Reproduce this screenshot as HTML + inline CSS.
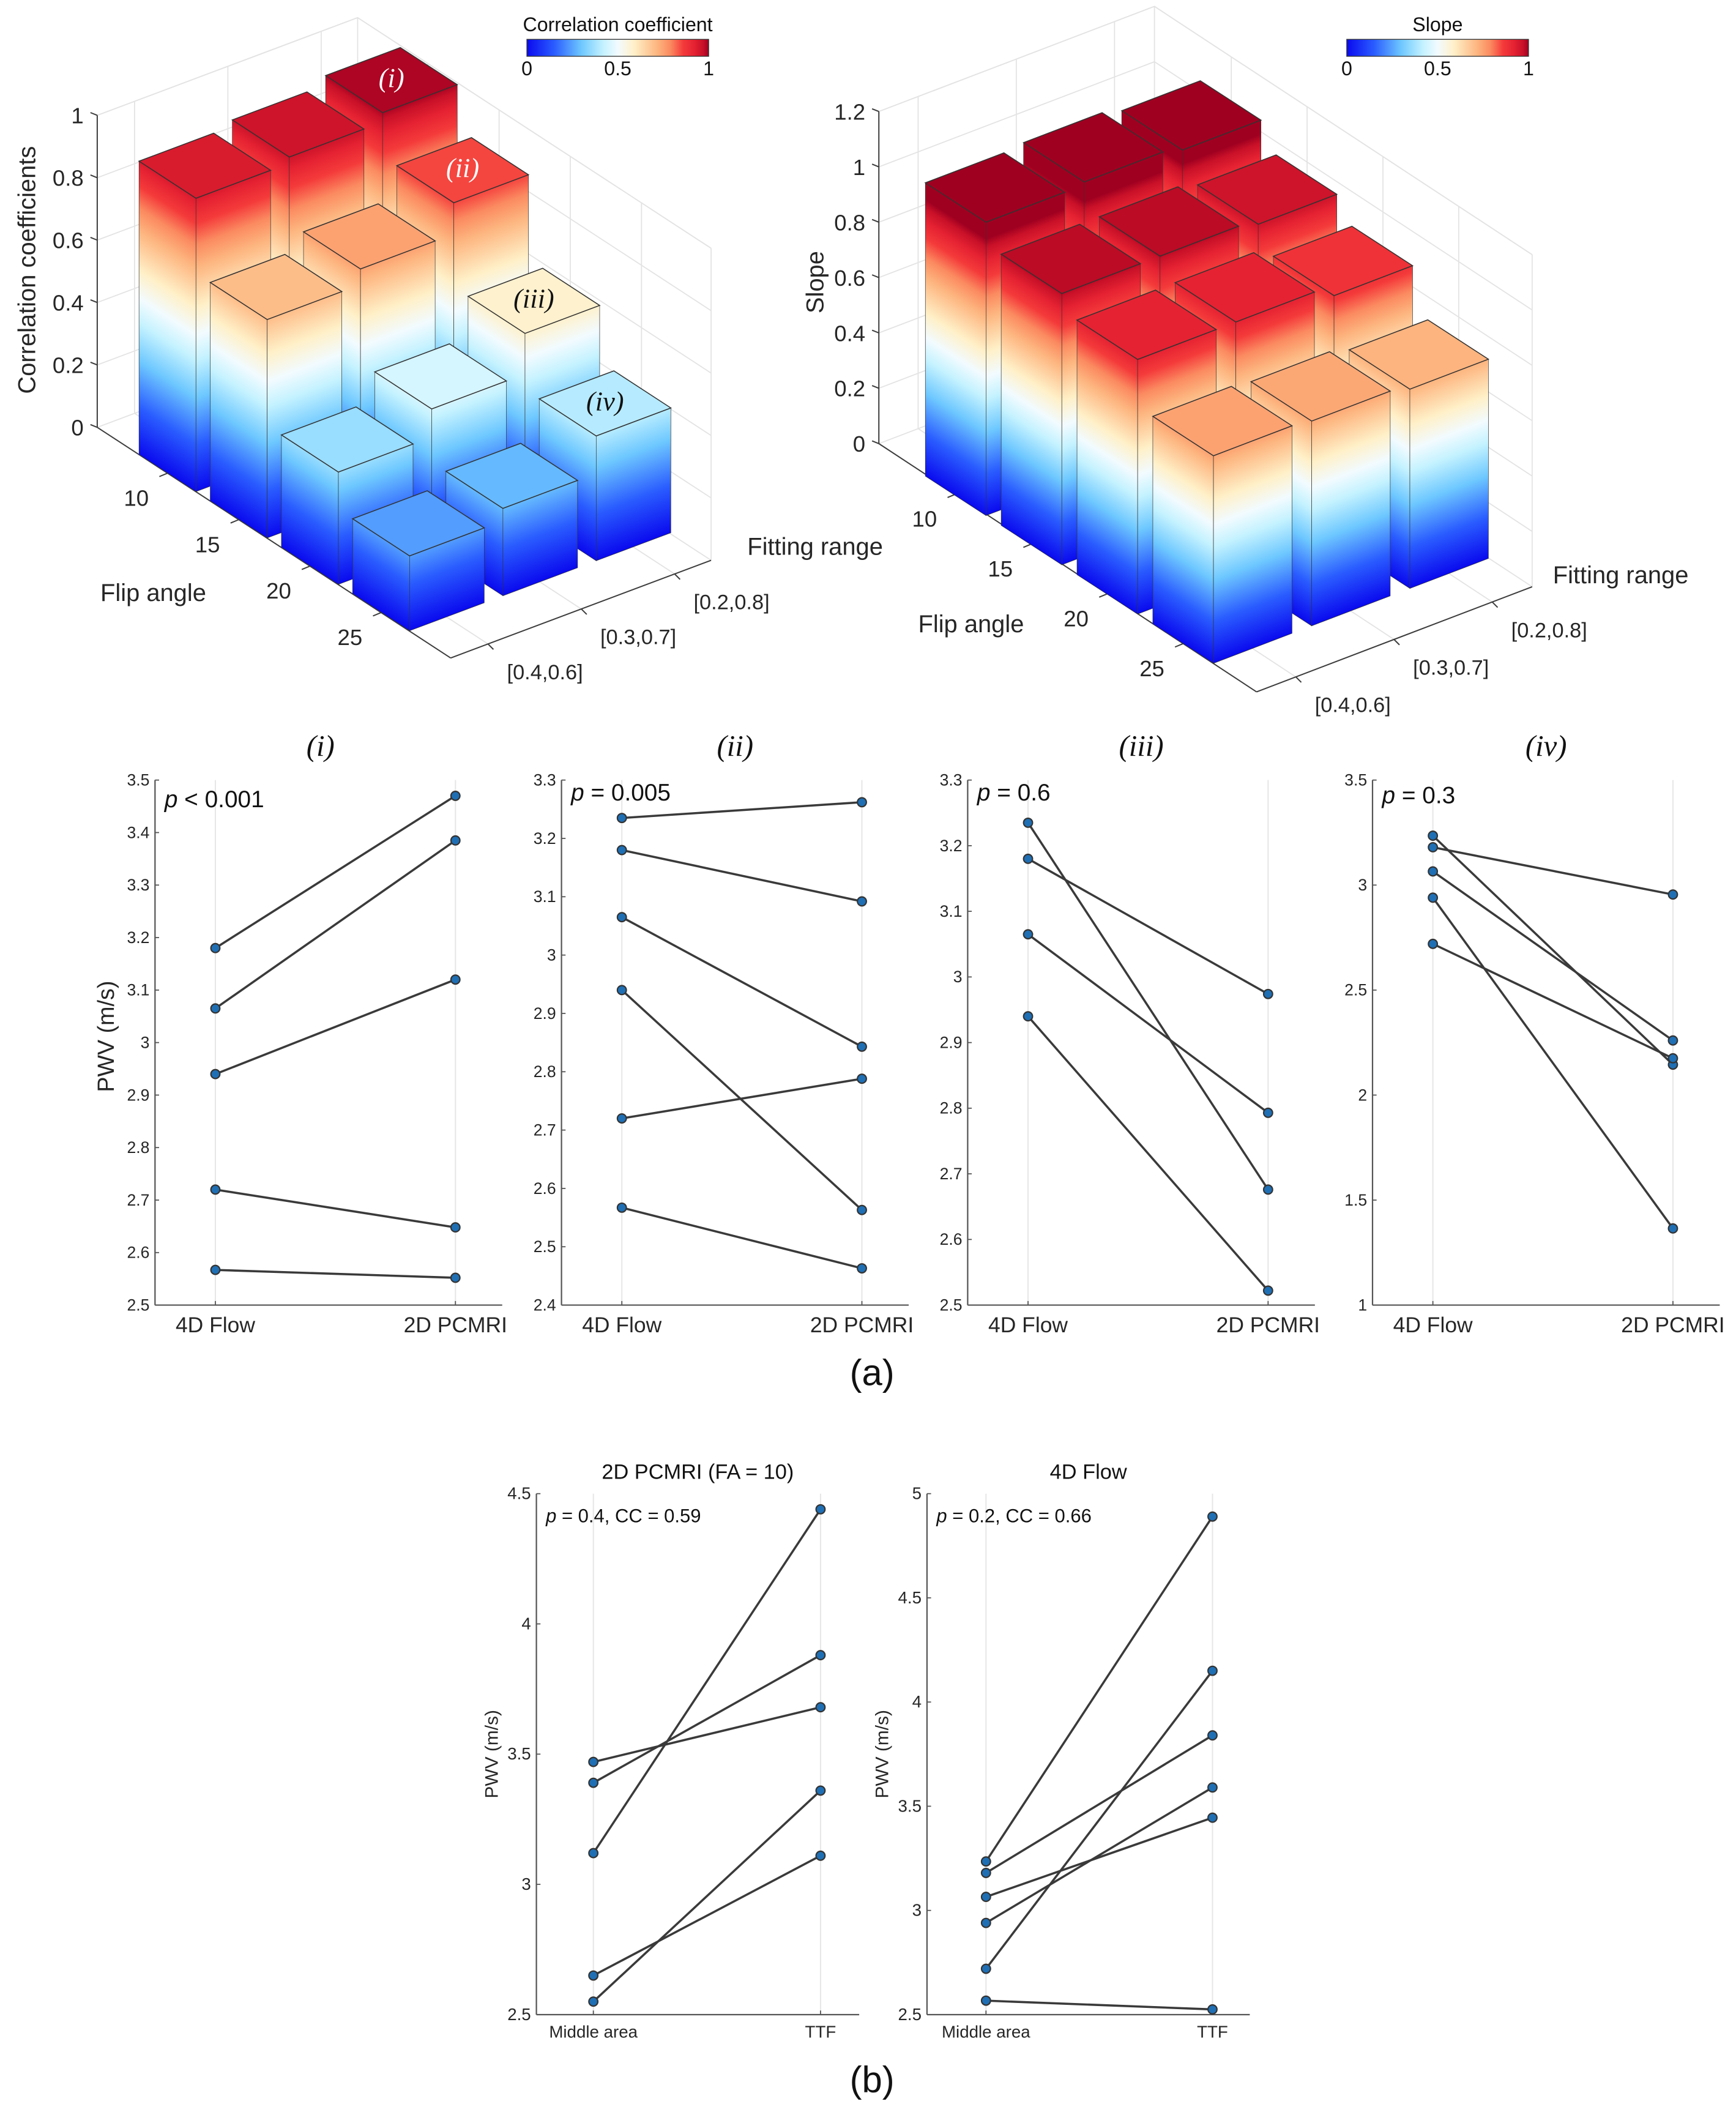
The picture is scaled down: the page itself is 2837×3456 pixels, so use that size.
<!DOCTYPE html>
<html><head><meta charset="utf-8"><title>Correlation and slope bar charts with paired PWV plots</title>
<style>
html,body{margin:0;padding:0;background:#fff;}
svg{display:block;font-family:"Liberation Sans",Arial,sans-serif;}
</style></head>
<body>
<svg id="fig" xmlns="http://www.w3.org/2000/svg" width="2837" height="3456" viewBox="0 0 1280 1559" preserveAspectRatio="none">
<defs>
<linearGradient id="cm" gradientUnits="userSpaceOnUse" x1="0" y1="0" x2="0" y2="1">
<stop offset="0" stop-color="#0a0aee"/><stop offset="0.15" stop-color="#2a5cff"/><stop offset="0.30" stop-color="#6ec8ff"/>
<stop offset="0.42" stop-color="#c4f2ff"/><stop offset="0.50" stop-color="#f2fbff"/><stop offset="0.59" stop-color="#fff0c8"/>
<stop offset="0.72" stop-color="#fdb47e"/><stop offset="0.79" stop-color="#fb8a60"/><stop offset="0.86" stop-color="#f43a3a"/>
<stop offset="0.92" stop-color="#e52232"/><stop offset="0.97" stop-color="#c81028"/><stop offset="1" stop-color="#a00020"/>
</linearGradient>
<linearGradient id="cmh" x1="0" y1="0" x2="1" y2="0">
<stop offset="0" stop-color="#0a0aee"/><stop offset="0.15" stop-color="#2a5cff"/><stop offset="0.30" stop-color="#6ec8ff"/>
<stop offset="0.42" stop-color="#c4f2ff"/><stop offset="0.50" stop-color="#f2fbff"/><stop offset="0.59" stop-color="#fff0c8"/>
<stop offset="0.72" stop-color="#fdb47e"/><stop offset="0.79" stop-color="#fb8a60"/><stop offset="0.86" stop-color="#f43a3a"/>
<stop offset="0.92" stop-color="#e52232"/><stop offset="0.97" stop-color="#c81028"/><stop offset="1" stop-color="#a00020"/>
</linearGradient>
</defs>
</svg>
<script>
// ---------- data ----------
const flipAngles = ['10','15','20','25'];
const fitRanges = ['[0.4,0.6]','[0.3,0.7]','[0.2,0.8]'];
const ccFlip10 = [0.94,0.96,0.99];
const ccFlip15 = [0.70,0.75,0.85];
const ccFlip20 = [0.36,0.45,0.58];
const ccFlip25 = [0.24,0.28,0.40];
const slopeFlip10 = [1.06,1.07,1.05];
const slopeFlip15 = [0.98,0.98,0.96];
const slopeFlip20 = [0.92,0.92,0.88];
const slopeFlip25 = [0.75,0.74,0.72];
const ccTicks = [0,0.2,0.4,0.6,0.8,1];
const ccTickLabels = ['0','0.2','0.4','0.6','0.8','1'];
const slopeTicks = [0,0.2,0.4,0.6,0.8,1,1.2];
const slopeTickLabels = ['0','0.2','0.4','0.6','0.8','1','1.2'];

const pairCats = ['4D Flow','2D PCMRI'];
const i4D = [3.18,3.065,2.94,2.72,2.567];
const i2D = [3.47,3.385,3.12,2.648,2.552];
const ii4D = [3.235,3.18,3.065,2.94,2.72,2.567];
const ii2D = [3.262,3.092,2.843,2.563,2.788,2.463];
const iii4D = [3.235,3.18,3.065,2.94];
const iii2D = [2.676,2.974,2.793,2.522];
const iv4D = [3.235,3.18,3.065,2.94,2.72];
const iv2D = [2.145,2.955,2.26,1.365,2.175];
const iTicks = [2.5,2.6,2.7,2.8,2.9,3,3.1,3.2,3.3,3.4,3.5];
const iTickLabels = ['2.5','2.6','2.7','2.8','2.9','3','3.1','3.2','3.3','3.4','3.5'];
const iiTicks = [2.4,2.5,2.6,2.7,2.8,2.9,3,3.1,3.2,3.3];
const iiTickLabels = ['2.4','2.5','2.6','2.7','2.8','2.9','3','3.1','3.2','3.3'];
const iiiTicks = [2.5,2.6,2.7,2.8,2.9,3,3.1,3.2,3.3];
const iiiTickLabels = ['2.5','2.6','2.7','2.8','2.9','3','3.1','3.2','3.3'];
const ivTicks = [1,1.5,2,2.5,3,3.5];
const ivTickLabels = ['1','1.5','2','2.5','3','3.5'];

const locCats = ['Middle area','TTF'];
const pcMid = [3.47,3.39,3.12,2.65,2.55];
const pcTTF = [3.68,3.88,4.44,3.11,3.36];
const flowMid = [3.235,3.18,3.065,2.94,2.72,2.567];
const flowTTF = [4.89,3.84,3.445,3.59,4.15,2.525];
const pcTicks = [2.5,3,3.5,4,4.5];
const pcTickLabels = ['2.5','3','3.5','4','4.5'];
const flowTicks = [2.5,3,3.5,4,4.5,5];
const flowTickLabels = ['2.5','3','3.5','4','4.5','5'];

// ---------- helpers ----------
const svg = document.getElementById('fig');
const NS = 'http://www.w3.org/2000/svg';
function mk(tag, attrs, name, parent) {
  const el = document.createElementNS(NS, tag);
  for (const k in attrs) el.setAttribute(k, attrs[k]);
  
  
  (parent || svg).appendChild(el);
  return el;
}
function txt(x, y, s, name, o, parent) {
  o = o || {};
  const a = {x: x, y: y, 'font-size': o.size || 14, fill: o.fill || '#262626', 'text-anchor': o.anchor || 'middle'};
  if (o.family) a['font-family'] = o.family;
  if (o.style) a['font-style'] = o.style;
  if (o.rot) a.transform = 'rotate(' + o.rot + ' ' + x + ' ' + y + ')';
  const t = mk('text', a, name, parent);
  t.textContent = s;
  return t;
}
const cmStops = [[0,'#0a0aee'],[0.15,'#2a5cff'],[0.30,'#6ec8ff'],[0.42,'#c4f2ff'],[0.50,'#f2fbff'],[0.59,'#fff0c8'],[0.72,'#fdb47e'],[0.79,'#fb8a60'],[0.86,'#f43a3a'],[0.92,'#e52232'],[0.97,'#c81028'],[1,'#a00020']];
function hex(c){return [parseInt(c.substr(1,2),16),parseInt(c.substr(3,2),16),parseInt(c.substr(5,2),16)];}
function cmap(v) {
  v = Math.max(0, Math.min(1, v));
  for (let k = 1; k < cmStops.length; k++) {
    if (v <= cmStops[k][0]) {
      const t = (v - cmStops[k-1][0]) / (cmStops[k][0] - cmStops[k-1][0]);
      const a = hex(cmStops[k-1][1]), b = hex(cmStops[k][1]);
      return 'rgb(' + a.map((x,i)=>Math.round(x + (b[i]-x)*t)).join(',') + ')';
    }
  }
  return cmStops[cmStops.length-1][1];
}
const pts = arr => arr.map(p => p[0].toFixed(2) + ',' + p[1].toFixed(2)).join(' ');

// ---------- 3D bar chart ----------
function bar3(c) {
  const g = mk('g', {}, c.name);
  const P = (fa, fb, z) => [c.O[0] + fa*c.A[0] + fb*c.B[0], c.O[1] + fa*c.A[1] + fb*c.B[1] - z*c.Z];
  const grid = {stroke: '#e3e3e3', 'stroke-width': 0.8, fill: 'none'};
  const aOff = (c.base[0] - c.O[0]);
  const aFr = flipAngles.map((f,i) => (aOff + (i+0.4)*c.sa[0]) / c.A[0]);
  const bFr = fitRanges.map((f,j) => ((j+0.4)*c.sb[0]) / c.B[0]);
  c.zt.forEach(z => {
    const p1 = P(0,0,z), p2 = P(0,1,z), p3 = P(1,1,z);
    mk('polyline', Object.assign({points: pts([p1,p2,p3])}, grid), 'z-gridline', g);
  });
  bFr.forEach(f => { const a = P(0,f,0), b = P(0,f,c.zmax); mk('line', Object.assign({x1:a[0],y1:a[1],x2:b[0],y2:b[1]}, grid), 'fit-gridline', g);
    const d = P(1,f,0); mk('line', Object.assign({x1:a[0],y1:a[1],x2:d[0],y2:d[1]}, grid), 'floor-gridline', g); });
  aFr.forEach(f => { const a = P(f,1,0), b = P(f,1,c.zmax); mk('line', Object.assign({x1:a[0],y1:a[1],x2:b[0],y2:b[1]}, grid), 'flip-gridline', g);
    const d = P(f,0,0); mk('line', Object.assign({x1:a[0],y1:a[1],x2:d[0],y2:d[1]}, grid), 'floor-gridline', g); });
  { const a = P(0,1,0), b = P(0,1,c.zmax); mk('line', Object.assign({x1:a[0],y1:a[1],x2:b[0],y2:b[1]}, grid), 'back-edge', g);
    const d = P(1,1,0), e = P(1,1,c.zmax); mk('line', Object.assign({x1:d[0],y1:d[1],x2:e[0],y2:e[1]}, grid), 'right-edge', g);
    const f0 = P(0,0,c.zmax); mk('line', Object.assign({x1:f0[0],y1:f0[1],x2:b[0],y2:b[1]}, grid), 'top-edge', g);
    mk('line', Object.assign({x1:b[0],y1:b[1],x2:e[0],y2:e[1]}, grid), 'top-edge', g); }
  const ax = {stroke: '#3c3c3c', 'stroke-width': 0.9};
  let p0 = P(0,0,0), pz = P(0,0,c.zmax), pa = P(1,0,0), pb = P(1,1,0);
  mk('line', Object.assign({x1:p0[0],y1:p0[1],x2:pz[0],y2:pz[1]}, ax), 'z-axis', g);
  mk('line', Object.assign({x1:p0[0],y1:p0[1],x2:pa[0],y2:pa[1]}, ax), 'flip-axis', g);
  mk('line', Object.assign({x1:pa[0],y1:pa[1],x2:pb[0],y2:pb[1]}, ax), 'fit-axis', g);
  c.zt.forEach((z,k) => {
    const p = P(0,0,z);
    mk('line', Object.assign({x1:p[0],y1:p[1],x2:p[0]-5,y2:p[1]-2}, ax), 'z-tick', g);
    txt(p[0]-10, p[1]+6, c.ztl[k], 'z-tick-label', {size:16.5, anchor:'end'}, g);
  });
  aFr.forEach((f,i) => {
    const p = P(f,0,0);
    mk('line', Object.assign({x1:p[0],y1:p[1],x2:p[0]-6,y2:p[1]+2.5}, ax), 'flip-tick', g);
    txt(p[0]-23, p[1]+24, flipAngles[i], 'flip-tick-label', {size:16.5}, g);
  });
  bFr.forEach((f,j) => {
    const p = P(1,f,0);
    mk('line', Object.assign({x1:p[0],y1:p[1],x2:p[0]+4,y2:p[1]+4}, ax), 'fit-tick', g);
    txt(p[0]+42, p[1]+26, fitRanges[j], 'fit-tick-label', {size:15.5}, g);
  });
  const order = [];
  c.vals.forEach((row,i) => row.forEach((v,j) => order.push([i,j,v])));
  order.sort((p,q) => (p[0]-p[1]) - (q[0]-q[1]));
  const wa = [c.sa[0]*0.8, c.sa[1]*0.8], wb = [c.sb[0]*0.8, c.sb[1]*0.8];
  order.forEach(([i,j,v]) => {
    const L = [c.base[0] + i*c.sa[0] + j*c.sb[0], c.base[1] + i*c.sa[1] + j*c.sb[1]];
    const F = [L[0]+wa[0], L[1]+wa[1]], R = [F[0]+wb[0], F[1]+wb[1]], K = [L[0]+wb[0], L[1]+wb[1]];
    const h = v*c.Z;
    const bg = mk('g', {}, 'bar-flip' + flipAngles[i] + '-fit' + j, g);
    const face = (o, d, nm) => mk('rect', {x:0, y:0, width:1, height:v, fill:'url(#cm)', stroke:'#333', 'stroke-width':0.7, 'vector-effect':'non-scaling-stroke',
      transform: 'matrix(' + d[0] + ',' + d[1] + ',0,' + (-c.Z) + ',' + o[0] + ',' + o[1] + ')'}, nm, bg);
    face(L, wa, 'bar-left-face');
    face(F, wb, 'bar-right-face');
    const up = p => [p[0], p[1]-h];
    mk('polygon', {points: pts([up(L),up(F),up(R),up(K)]), fill: cmap(v), stroke:'#333', 'stroke-width':0.7}, 'bar-top-face', bg);
    if (c.marks && c.marks[i + ',' + j]) {
      const cx = L[0] + 0.5*wa[0] + 0.5*wb[0], cy = L[1] + 0.5*wa[1] + 0.5*wb[1] - h;
      txt(cx, cy+5, c.marks[i + ',' + j], 'bar-annotation', {size:20, family:'"Liberation Serif",serif', style:'italic', fill: v > 0.8 ? '#fff' : '#111'}, bg);
    }
  });
  const cb = c.cb;
  mk('rect', {x:cb.x, y:cb.y, width:cb.w, height:cb.h, fill:'url(#cmh)', stroke:'#333', 'stroke-width':0.6}, 'colorbar', g);
  txt(cb.x + cb.w/2, cb.y - 6, cb.title, 'colorbar-title', {size:14.5, fill:'#111'}, g);
  [['0',0],['0.5',0.5],['1',1]].forEach(([s,f]) => txt(cb.x + f*cb.w, cb.y + cb.h + 14, s, 'colorbar-tick-label', {size:14.5, fill:'#111'}, g));
  txt(c.zl[0], c.zl[1], c.zlabel, 'z-axis-title', {size:18, rot:-90}, g);
  txt(c.fl[0], c.fl[1], 'Flip angle', 'flip-axis-title', {size:18}, g);
  txt(c.rl[0], c.rl[1], 'Fitting range', 'fit-axis-title', {size:18, anchor:'start'}, g);
}

bar3({name:'cc-bar-chart', O:[71.7,315], A:[260.6,170], B:[192,-72], Z:230, zmax:1, zt:ccTicks, ztl:ccTickLabels,
  base:[102.5,335], sa:[52.5,34.2], sb:[68.8,-25.8], vals:[ccFlip10,ccFlip15,ccFlip20,ccFlip25],
  marks:{'0,2':'(i)','1,2':'(ii)','2,2':'(iii)','3,2':'(iv)'},
  cb:{x:388.5, y:29, w:134, h:12.5, title:'Correlation coefficient'}, zlabel:'Correlation coefficients', zl:[26,199], fl:[113,443], rl:[551,409]});
bar3({name:'slope-bar-chart', O:[648,327], A:[278.5,183], B:[203.2,-77.5], Z:204, zmax:1.2, zt:slopeTicks, ztl:slopeTickLabels,
  base:[682.3,351], sa:[55.9,36.3], sb:[72.4,-27.6], vals:[slopeFlip10,slopeFlip15,slopeFlip20,slopeFlip25],
  cb:{x:993, y:29, w:134, h:12.5, title:'Slope'}, zlabel:'Slope', zl:[607,208], fl:[716,466], rl:[1145,430]});

// ---------- paired line panels ----------
function panel(c) {
  const g = mk('g', {}, c.name);
  const y = v => c.bot - (v - c.ymin) / (c.ymax - c.ymin) * (c.bot - c.top);
  const cx = [c.ax + c.c1, c.ax + c.c2];
  cx.forEach(x => mk('line', {x1:x, y1:c.top, x2:x, y2:c.bot, stroke:'#e6e6e6', 'stroke-width':0.9}, 'x-gridline', g));
  mk('line', {x1:c.ax, y1:c.top, x2:c.ax, y2:c.bot, stroke:'#555', 'stroke-width':1}, 'y-axis', g);
  mk('line', {x1:c.ax, y1:c.bot, x2:c.ax + c.end, y2:c.bot, stroke:'#555', 'stroke-width':1}, 'x-axis', g);
  c.ticks.forEach((t,k) => {
    mk('line', {x1:c.ax, y1:y(t), x2:c.ax+3, y2:y(t), stroke:'#555', 'stroke-width':0.8}, 'y-tick', g);
    txt(c.ax - 4, y(t) + 4, c.tl[k], 'y-tick-label', {size:c.ts, anchor:'end'}, g);
  });
  cx.forEach((x,k) => {
    mk('line', {x1:x, y1:c.bot, x2:x, y2:c.bot-3, stroke:'#555', 'stroke-width':0.8}, 'x-tick', g);
    txt(x, c.bot + c.xo, c.cats[k], 'x-tick-label', {size:c.xs}, g);
  });
  c.a.forEach((v,k) => {
    mk('line', {x1:cx[0], y1:y(v), x2:cx[1], y2:y(c.b[k]), stroke:'#3a3a3a', 'stroke-width':1.6}, 'pair-line', g);
  });
  c.a.forEach((v,k) => {
    mk('circle', {cx:cx[0], cy:y(v), r:3.3, fill:'#1f6fb4', stroke:'#333', 'stroke-width':1}, 'point-left', g);
    mk('circle', {cx:cx[1], cy:y(c.b[k]), r:3.3, fill:'#1f6fb4', stroke:'#333', 'stroke-width':1}, 'point-right', g);
  });
  const pt = mk('text', {x:c.ax + 7, y:c.top + c.po, 'font-size':c.ps, fill:'#111'}, 'p-value-text', g);
  const ts = mk('tspan', {'font-style':'italic'}, 'p-symbol', pt); ts.textContent = 'p';
  const tr = mk('tspan', {}, 'p-value', pt); tr.textContent = c.p;
  if (c.title) txt(c.ax + c.end/2 + (c.tdx||0), c.top - c.tyo, c.title, 'panel-title', c.tf, g);
  if (c.ylabel) txt(c.yl[0], c.yl[1], 'PWV (m/s)', 'y-axis-title', {size:c.yls, rot:-90}, g);
}
const aBase = {top:575, bot:962, c1:44.5, c2:221.5, end:256, cats:pairCats, ts:12, xs:16, xo:20, ps:17.5, po:20, tyo:18,
  tf:{size:22, family:'"Liberation Serif",serif', style:'italic', fill:'#111'}};
panel(Object.assign({}, aBase, {name:'panel-i', ax:114.3, ymin:2.5, ymax:3.5, ticks:iTicks, tl:iTickLabels, a:i4D, b:i2D, p:' < 0.001', title:'(i)', tdx:-6, ylabel:true, yl:[84,764], yls:17}));
panel(Object.assign({}, aBase, {name:'panel-ii', ax:414, ymin:2.4, ymax:3.3, ticks:iiTicks, tl:iiTickLabels, a:ii4D, b:ii2D, p:' = 0.005', title:'(ii)', po:15}));
panel(Object.assign({}, aBase, {name:'panel-iii', ax:713.5, ymin:2.5, ymax:3.3, ticks:iiiTicks, tl:iiiTickLabels, a:iii4D, b:iii2D, p:' = 0.6', title:'(iii)', po:15}));
panel(Object.assign({}, aBase, {name:'panel-iv', ax:1012, ymin:1, ymax:3.5, ticks:ivTicks, tl:ivTickLabels, a:iv4D, b:iv2D, p:' = 0.3', title:'(iv)', po:17}));
txt(643, 1021, '(a)', 'subfigure-label-a', {size:27, fill:'#111'});

const bBase = {top:1101, bot:1485, c1:42, c2:209.5, end:238, cats:locCats, ts:12.5, xs:12.5, xo:17, ps:14, po:21, tyo:11,
  tf:{size:15.5, fill:'#111'}, ylabel:true, yls:13.5};
panel(Object.assign({}, bBase, {name:'panel-2d-pcmri', ax:395.5, ymin:2.5, ymax:4.5, ticks:pcTicks, tl:pcTickLabels, a:pcMid, b:pcTTF, p:' = 0.4, CC = 0.59', title:'2D PCMRI (FA = 10)', yl:[367,1293]}));
panel(Object.assign({}, bBase, {name:'panel-4d-flow', ax:683.5, c1:43.5, c2:210.5, end:238, ymin:2.5, ymax:5, ticks:flowTicks, tl:flowTickLabels, a:flowMid, b:flowTTF, p:' = 0.2, CC = 0.66', title:'4D Flow', yl:[655,1293]}));
txt(643, 1542, '(b)', 'subfigure-label-b', {size:27, fill:'#111'});
</script>
</body></html>
